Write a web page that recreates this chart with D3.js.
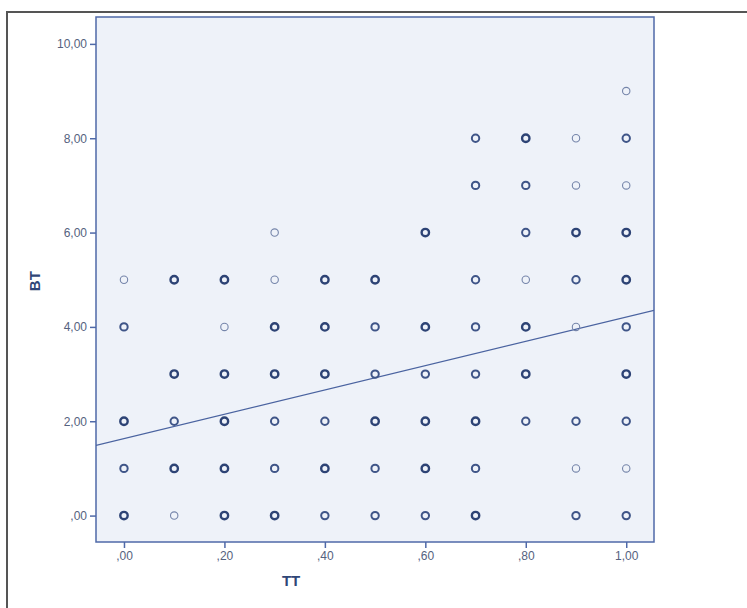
<!DOCTYPE html>
<html>
<head>
<meta charset="utf-8">
<script src="https://cdn.jsdelivr.net/npm/d3@7"></script>
<style>
  html, body { margin: 0; padding: 0; background: #ffffff; }
  svg { display: block; }
</style>
</head>
<body>
<svg id="chart" width="747" height="608"></svg>
<script>
// TT levels (x) and, for each level, the BT values observed and how many cases share each point
const ttLevels = [0, 0.1, 0.2, 0.3, 0.4, 0.5, 0.6, 0.7, 0.8, 0.9, 1.0];
const btByTT = [
  [5, 4, 2, 1, 0],
  [5, 3, 2, 1, 0],
  [5, 4, 3, 2, 1, 0],
  [6, 5, 4, 3, 2, 1, 0],
  [5, 4, 3, 2, 1, 0],
  [5, 4, 3, 2, 1, 0],
  [6, 4, 3, 2, 1, 0],
  [8, 7, 5, 4, 3, 2, 1, 0],
  [8, 7, 6, 5, 4, 3, 2],
  [8, 7, 6, 5, 4, 2, 1, 0],
  [9, 8, 7, 6, 5, 4, 3, 2, 1, 0]
];
const casesByTT = [
  [1, 2, 3, 2, 3],
  [3, 3, 2, 3, 1],
  [3, 1, 3, 3, 3, 3],
  [1, 1, 3, 3, 2, 2, 3],
  [3, 3, 3, 2, 3, 2],
  [3, 2, 2, 3, 2, 2],
  [3, 3, 2, 3, 3, 2],
  [2, 2, 2, 2, 2, 3, 2, 3],
  [3, 2, 2, 1, 3, 3, 2],
  [1, 1, 3, 2, 1, 2, 1, 2],
  [1, 2, 1, 3, 3, 2, 3, 2, 1, 2]
];

// Linear fit line: BT = intercept + slope * TT
const fitIntercept = 1.63;
const fitSlope = 2.58;

const xTicks = [0, 0.2, 0.4, 0.6, 0.8, 1.0];
const yTicks = [0, 2, 4, 6, 8, 10];
const xTitle = "TT";
const yTitle = "BT";

// Flatten to one record per plotted position
const points = [];
ttLevels.forEach((tt, i) => {
  btByTT[i].forEach((bt, j) => points.push({ tt, bt, n: casesByTT[i][j] }));
});

const svg = d3.select("#chart");
const plot = { left: 96, top: 17, right: 654, bottom: 542 };

const x = d3.scaleLinear().domain([-0.0557, 1.0553]).range([plot.left, plot.right]);
const y = d3.scaleLinear().domain([-0.56, 10.57]).range([plot.bottom, plot.top]);

// SPSS-style number labels: comma decimal, no leading zero
const fmt = v => {
  let s = d3.format(".2f")(v).replace(".", ",");
  if (s.startsWith("0,")) s = s.slice(1);
  return s;
};

// Outer chart frame
svg.append("rect")
  .attr("x", 7).attr("y", 12)
  .attr("width", 760).attr("height", 620)
  .attr("fill", "none")
  .attr("stroke", "#555555")
  .attr("stroke-width", 2);

// Plot background
svg.append("rect")
  .attr("x", plot.left).attr("y", plot.top)
  .attr("width", plot.right - plot.left)
  .attr("height", plot.bottom - plot.top)
  .attr("fill", "#eef2f9");

// Axes
const axisColor = "#4f69a8";
const labelColor = "#55627e";

const xAxis = svg.append("g")
  .attr("transform", `translate(0,${plot.bottom})`)
  .call(d3.axisBottom(x).tickValues(xTicks).tickFormat(fmt).tickSize(6).tickSizeOuter(0));
const yAxis = svg.append("g")
  .attr("transform", `translate(${plot.left},0)`)
  .call(d3.axisLeft(y).tickValues(yTicks).tickFormat(fmt).tickSize(6).tickSizeOuter(0));

[xAxis, yAxis].forEach(g => {
  g.select(".domain").remove();
  g.selectAll(".tick line").attr("stroke", axisColor).attr("stroke-width", 1.5);
  g.selectAll(".tick text")
    .attr("fill", labelColor)
    .style("font-family", "'Liberation Sans', Arial, sans-serif")
    .style("font-size", "12px");
});
xAxis.selectAll(".tick text").attr("dy", "0.95em").attr("y", 7);
yAxis.selectAll(".tick text").attr("x", -9);

// Plot border
svg.append("rect")
  .attr("x", plot.left).attr("y", plot.top)
  .attr("width", plot.right - plot.left)
  .attr("height", plot.bottom - plot.top)
  .attr("fill", "none")
  .attr("stroke", axisColor)
  .attr("stroke-width", 1.5);

// Axis titles
svg.append("text")
  .attr("x", (x(0) + x(1)) / 2 - 84).attr("y", 586)
  .attr("text-anchor", "middle")
  .attr("fill", "#2f4677")
  .style("font-family", "'Liberation Sans', Arial, sans-serif")
  .style("font-weight", "bold")
  .style("font-size", "15px")
  .text(xTitle);

svg.append("text")
  .attr("transform", `translate(40,${y(4.97)}) rotate(-90)`)
  .attr("text-anchor", "middle")
  .attr("fill", "#2f4677")
  .style("font-family", "'Liberation Sans', Arial, sans-serif")
  .style("font-weight", "bold")
  .style("font-size", "15px")
  .text(yTitle);

// Clip marks to the plot area
svg.append("clipPath").attr("id", "plotClip")
  .append("rect")
  .attr("x", plot.left).attr("y", plot.top)
  .attr("width", plot.right - plot.left)
  .attr("height", plot.bottom - plot.top);

// Fit line
const [x0, x1] = x.domain();
svg.append("line")
  .attr("clip-path", "url(#plotClip)")
  .attr("x1", x(x0)).attr("y1", y(fitIntercept + fitSlope * x0))
  .attr("x2", x(x1)).attr("y2", y(fitIntercept + fitSlope * x1))
  .attr("stroke", "#4a63a0")
  .attr("stroke-width", 1.2);

// Points: darker and heavier where more cases coincide
const strokeColor = d3.scaleOrdinal().domain([1, 2, 3]).range(["#7585aa", "#3f5588", "#2d4375"]);
const strokeWidth = d3.scaleOrdinal().domain([1, 2, 3]).range([1.1, 2.0, 2.4]);

svg.append("g")
  .selectAll("circle")
  .data(points)
  .join("circle")
  .attr("cx", d => x(d.tt))
  .attr("cy", d => y(d.bt))
  .attr("r", 3.7)
  .attr("fill", "none")
  .attr("stroke", d => strokeColor(Math.min(d.n, 3)))
  .attr("stroke-width", d => strokeWidth(Math.min(d.n, 3)));
</script>
</body>
</html>
